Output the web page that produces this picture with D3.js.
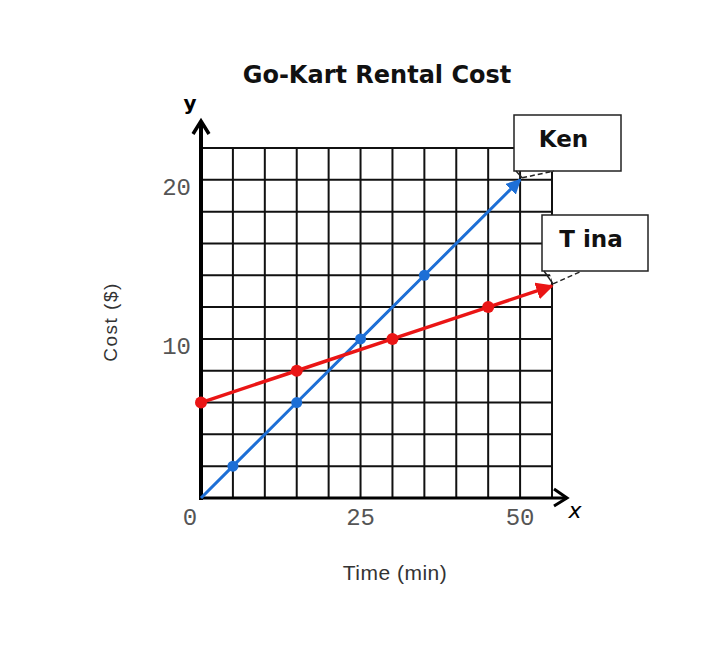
<!DOCTYPE html>
<html>
<head>
<meta charset="utf-8">
<script src="https://cdn.jsdelivr.net/npm/d3@7"></script>
<style>
  body { margin: 0; background: #fff; }
</style>
</head>
<body>
<svg id="chart" width="720" height="645"></svg>
<script>
// Go-Kart rental cost data
const kenTimes = [0, 5, 15, 25, 35, 50];
const kenCosts = [0, 2, 6, 10, 14, 20];
const tinaTimes = [0, 15, 30, 45, 55];
const tinaCosts = [6, 8, 10, 12, 13.33];
const xTicks = [0, 25, 50];
const yTicks = [10, 20];

const svg = d3.select("#chart");

const x = d3.scaleLinear().domain([0, 55]).range([201, 552]);
const y = d3.scaleLinear().domain([0, 22]).range([498, 148]);

const blue = "#1d6fd6", red = "#ea1515";

// markers for the line arrowheads
const defs = svg.append("defs");
[["arrow-blue", blue], ["arrow-red", red]].forEach(([id, c]) => {
    defs.append("marker")
        .attr("id", id)
        .attr("viewBox", "0 0 10 10")
        .attr("refX", 9).attr("refY", 5)
        .attr("markerWidth", 5).attr("markerHeight", 5)
        .attr("markerUnits", "strokeWidth")
        .attr("orient", "auto")
        .append("path")
        .attr("d", "M0,0 L10,5 L0,10 z")
        .attr("fill", c);
});

// grid
const grid = svg.append("g").attr("stroke", "#111").attr("stroke-width", 2);
grid.selectAll(".vl")
    .data(d3.range(0, 56, 5))
    .join("line")
    .attr("x1", d => x(d)).attr("x2", d => x(d))
    .attr("y1", y(0)).attr("y2", y(22));
grid.selectAll(".hl")
    .data(d3.range(0, 23, 2))
    .join("line")
    .attr("x1", x(0)).attr("x2", x(55))
    .attr("y1", d => y(d)).attr("y2", d => y(d));

// axes
svg.append("line")
    .attr("x1", x(0)).attr("x2", x(0))
    .attr("y1", y(0) + 2).attr("y2", 121)
    .attr("stroke", "#000").attr("stroke-width", 4);
svg.append("path")
    .attr("d", `M${x(0) - 8},${134} L${x(0)},${121} L${x(0) + 8},${134}`)
    .attr("fill", "none").attr("stroke", "#000").attr("stroke-width", 3.5);
svg.append("line")
    .attr("x1", x(0) - 2).attr("x2", 567)
    .attr("y1", y(0)).attr("y2", y(0))
    .attr("stroke", "#000").attr("stroke-width", 3);
svg.append("path")
    .attr("d", `M${554},${489} L${567},${y(0)} L${554},${506}`)
    .attr("fill", "none").attr("stroke", "#000").attr("stroke-width", 3);

svg.append("text")
    .attr("x", 190).attr("y", 110)
    .attr("text-anchor", "middle")
    .attr("font-family", "DejaVu Sans")
    .attr("font-weight", "bold")
    .attr("font-size", 20)
    .text("y");
svg.append("text")
    .attr("x", 575).attr("y", 518)
    .attr("text-anchor", "middle")
    .attr("font-family", "DejaVu Sans")
    .attr("font-style", "italic")
    .attr("font-size", 22)
    .text("x");

// tick labels
svg.selectAll(".xt")
    .data(xTicks)
    .join("text")
    .attr("x", d => d === 0 ? x(d) - 11 : x(d))
    .attr("y", 525)
    .attr("text-anchor", "middle")
    .attr("font-family", "Liberation Mono")
    .attr("font-size", 24)
    .attr("fill", "#555")
    .text(d => d);
svg.selectAll(".yt")
    .data(yTicks)
    .join("text")
    .attr("x", 191)
    .attr("y", d => y(d) + 15)
    .attr("text-anchor", "end")
    .attr("font-family", "Liberation Mono")
    .attr("font-size", 24)
    .attr("fill", "#555")
    .text(d => d);

// lines
const line = d3.line().x(d => x(d[0])).y(d => y(d[1]));
const ken = kenTimes.map((t, i) => [t, kenCosts[i]]);
const tina = tinaTimes.map((t, i) => [t, tinaCosts[i]]);

svg.append("path")
    .datum(ken)
    .attr("d", line)
    .attr("fill", "none")
    .attr("stroke", blue)
    .attr("stroke-width", 3)
    .attr("marker-end", "url(#arrow-blue)");
svg.append("path")
    .datum(tina)
    .attr("d", line)
    .attr("fill", "none")
    .attr("stroke", red)
    .attr("stroke-width", 3.5)
    .attr("marker-end", "url(#arrow-red)");

svg.selectAll(".kdot")
    .data(ken.slice(1, -1))
    .join("circle")
    .attr("cx", d => x(d[0])).attr("cy", d => y(d[1]))
    .attr("r", 5.5)
    .attr("fill", blue);
svg.selectAll(".tdot")
    .data(tina.slice(0, -1))
    .join("circle")
    .attr("cx", d => x(d[0])).attr("cy", d => y(d[1]))
    .attr("r", 6)
    .attr("fill", red);

// callouts
function callout(tip, bx, by, w, h, label) {
    const g = svg.append("g");
    g.append("path")
        .attr("d", `M${tip[0]},${tip[1]} L${bx + 7},${by + h} L${bx + 40},${by + h} Z`)
        .attr("fill", "#fff");
    g.append("rect")
        .attr("x", bx).attr("y", by)
        .attr("width", w).attr("height", h)
        .attr("fill", "#fff")
        .attr("stroke", "#222").attr("stroke-width", 1.5);
    g.append("path")
        .attr("d", `M${bx + 2},${by + h} L${tip[0]},${tip[1]}`)
        .attr("stroke", "#222").attr("stroke-width", 1.5);
    g.append("path")
        .attr("d", `M${tip[0]},${tip[1]} L${bx + 40},${by + h}`)
        .attr("stroke", "#222").attr("stroke-width", 1.5)
        .attr("stroke-dasharray", "5,3");
    g.append("text")
        .attr("x", bx + w / 2 - 4).attr("y", by + 32)
        .attr("text-anchor", "middle")
        .attr("font-family", "DejaVu Sans")
        .attr("font-weight", "bold")
        .attr("font-size", 23)
        .attr("fill", "#111")
        .text(label);
}
callout([x(50) + 2, y(20) - 2], 514, 115, 107, 56, "Ken");
callout([x(55) + 1, y(13.33) - 2], 542, 215, 106, 56, "T ina");

// title and axis titles
svg.append("text")
    .attr("x", 377).attr("y", 83)
    .attr("text-anchor", "middle")
    .attr("font-family", "DejaVu Sans")
    .attr("font-weight", "bold")
    .attr("font-size", 24)
    .attr("fill", "#111")
    .text("Go-Kart Rental Cost");

svg.append("text")
    .attr("x", 395).attr("y", 580)
    .attr("text-anchor", "middle")
    .attr("font-family", "Liberation Sans")
    .attr("font-size", 21)
    .attr("letter-spacing", 0.5)
    .attr("fill", "#333")
    .text("Time (min)");

svg.append("text")
    .attr("transform", "translate(117,322) rotate(-90)")
    .attr("text-anchor", "middle")
    .attr("font-family", "Liberation Sans")
    .attr("font-size", 19)
    .attr("letter-spacing", 1.5)
    .attr("fill", "#333")
    .text("Cost ($)");
</script>
</body>
</html>
